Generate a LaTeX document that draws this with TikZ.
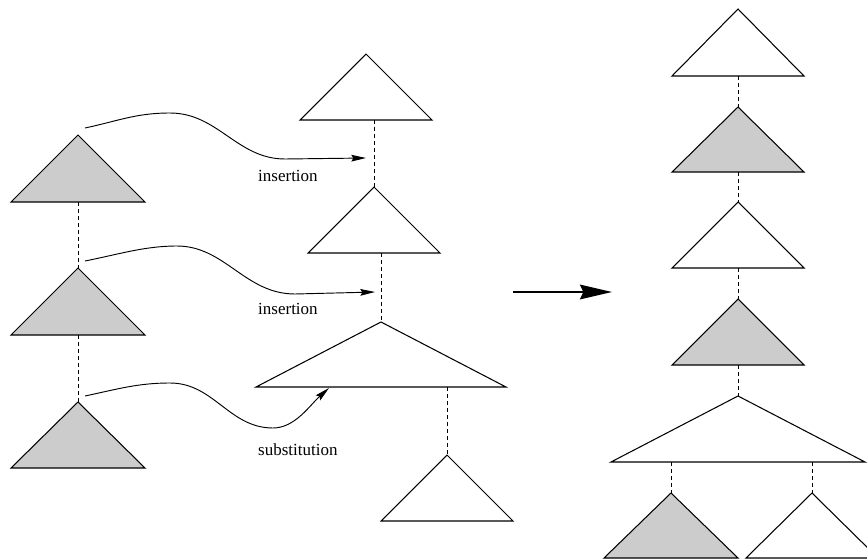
\documentclass[tikz,border=0pt]{standalone}
\usepackage{fontspec}
\setmainfont{Liberation Serif}
\usetikzlibrary{arrows.meta}

% elementary tree: style, name, apex x, apex y, half width, height
\newcommand{\elemtree}[6]{%
  \coordinate (#2) at (#3,#4);
  \coordinate (#2-base) at (#3,#4+#6);
  \draw[#1] (#2) -- ++(-#5,#6) -- ++(2*#5,0) -- cycle;
}

\begin{document}
\begin{tikzpicture}[x=0.03cm, y=-0.03cm,
    tree/.style={draw=black, line width=0.9pt, line join=miter, fill=white},
    gtree/.style={tree, fill=black!20},
    link/.style={draw=black, line width=0.7pt, dash pattern=on 3.5pt off 2.5pt},
    move/.style={line width=0.8pt, -{Stealth[length=4.4mm, width=2mm, inset=0.6mm]}},
    big/.style={line width=1.8pt, -{Stealth[length=9.6mm, width=4.4mm, inset=1mm]}},
    op/.style={anchor=base west, inner sep=0pt, font=\fontsize{14.5}{17}\selectfont}]

    \useasboundingbox (0,0) rectangle (867,560);
    \clip (0,0) rectangle (867,560);

    % Left: the trees to combine
    \elemtree{gtree}{L1}{78}{135}{67}{67}
    \elemtree{gtree}{L2}{78}{268}{67}{67}
    \elemtree{gtree}{L3}{78}{402}{67}{66}

    % Middle: the trees they go into
    \elemtree{tree}{M1}{366}{54}{66}{66}
    \elemtree{tree}{M2}{374}{187}{66}{66}
    \elemtree{tree}{M3}{381}{322}{125}{65}
    \elemtree{tree}{M4}{447}{455}{66}{66}

    % Right: the derived tree
    \elemtree{tree}{R1}{738}{9}{66}{67}
    \elemtree{gtree}{R2}{738}{107}{66}{65}
    \elemtree{tree}{R3}{738}{202}{66}{66}
    \elemtree{gtree}{R4}{738}{299}{66}{66}
    \elemtree{tree}{R5}{738}{396}{127}{66}
    \elemtree{gtree}{R6}{671}{493}{67}{65}
    \elemtree{tree}{R7}{812}{493}{66}{65}

    % Dashed links
    \draw[link] (L1-base) -- (L2);
    \draw[link] (L2-base) -- (L3);
    \draw[link] (M2 |- M1-base) -- (M2);
    \draw[link] (M3 |- M2-base) -- (M3);
    \draw[link] (M4 |- M3-base) -- (M4);
    \draw[link] (R1-base) -- (R2);
    \draw[link] (R2-base) -- (R3);
    \draw[link] (R3-base) -- (R4);
    \draw[link] (R4-base) -- (R5);
    \draw[link] (R6 |- R5-base) -- (R6);
    \draw[link] (R7 |- R5-base) -- (R7);

    % Arrow ends
    \coordinate (s1) at ([shift={(7,-7)}]L1);
    \coordinate (s2) at ([shift={(7,-7)}]L2);
    \coordinate (s3) at ([shift={(7,-6)}]L3);
    \coordinate (t1) at (366,158);
    \coordinate (t2) at (375,292);
    \coordinate (t3) at (329,388);
    \coordinate (bigL) at (513,292);
    \coordinate (bigR) at (612,292);

    % Arrows
    \draw[move] (s1) .. controls (118,121) and (136,113) .. (170,113)
        .. controls (218,113) and (237,159) .. (285,159) -- (t1);
    \draw[move] (s2) .. controls (120,254) and (145,246) .. (177,246)
        .. controls (225,246) and (245,294) .. (295,294) -- (t2);
    \draw[move] (s3) .. controls (118,389) and (138,383) .. (170,383)
        .. controls (214,383) and (229,428) .. (273,428)
        .. controls (295,428) and (310,405) .. (t3);
    \draw[big] (bigL) -- (bigR);

    % Labels
    \node[op] (ins1) at (258,181) {insertion};
    \node[op] (ins2) at (258,314) {insertion};
    \node[op] (subst) at (258,455) {substitution};
\end{tikzpicture}
\end{document}
